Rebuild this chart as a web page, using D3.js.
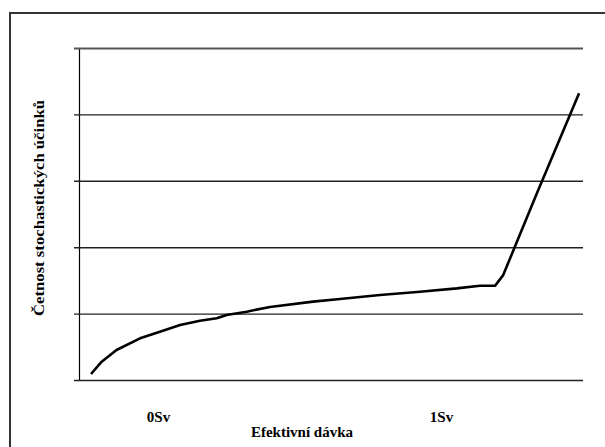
<!DOCTYPE html>
<html>
<head>
<meta charset="utf-8">
<script src="https://cdn.jsdelivr.net/npm/d3@7"></script>
<style>
  html, body { margin: 0; padding: 0; background: #fff; }
  svg { display: block; }
  text { font-family: "Liberation Serif", "Times New Roman", serif; font-weight: bold; fill: #000; }
</style>
</head>
<body>
<svg class="chart"></svg>
<script>
// dávka (Sv) a četnost (v jednotkách mřížky)
const davka = [-0.239, -0.201, -0.148, -0.064, 0.007, 0.079, 0.15, 0.21, 0.245, 0.317,
  0.4, 0.554, 0.65, 0.793, 0.936, 1.067, 1.15, 1.204, 1.233, 1.275, 1.353, 1.504];
const cetnost = [0.09, 0.276, 0.452, 0.628, 0.727, 0.828, 0.893, 0.929, 0.979, 1.029,
  1.10, 1.18, 1.22, 1.28, 1.33, 1.38, 1.42, 1.42, 1.58, 2.01, 2.81, 4.32];

const xTicks = [0, 1];
const xTickLabels = ["0Sv", "1Sv"];
const yTicks = [0, 1, 2, 3, 4, 5];

const xTitle = "Efektivní dávka";
const yTitle = "Četnost stochastických účinků";

const w = 605, h = 447;
const svg = d3.select('svg.chart').attr('width', w).attr('height', h);

// rámeček kolem grafu
svg.append('rect')
  .attr('x', 10).attr('y', 13)
  .attr('width', w).attr('height', h)
  .attr('fill', 'none')
  .attr('stroke', '#333')
  .attr('stroke-width', 2);

// oblast vykreslení
const mLeft = 79, mRight = 583, mTop = 48, mBottom = 380;

const x = d3.scaleLinear().domain([-0.282, 1.518]).range([mLeft, mRight]);
const y = d3.scaleLinear().domain([0, 5]).range([mBottom, mTop]);

// vodorovné čáry mřížky + značky na ose y
const yAxis = d3.axisLeft(y)
  .tickValues(yTicks)
  .tickSize(-(mRight - mLeft))
  .tickSizeOuter(0)
  .tickFormat('');

const gy = svg.append('g')
  .attr('transform', `translate(${mLeft},0)`)
  .call(yAxis);
gy.select('.domain').attr('stroke', '#000').attr('stroke-width', 1.2);
gy.selectAll('.tick line')
  .attr('x1', -5)
  .attr('stroke', d => d == 5 ? '#555' : '#222')
  .attr('stroke-width', d => d == 5 ? 2 : 1.4);

// popisky osy x
const xAxis = d3.axisBottom(x)
  .tickValues(xTicks)
  .tickSize(0)
  .tickFormat((d, i) => xTickLabels[i]);

const gx = svg.append('g')
  .attr('transform', `translate(0,${mBottom})`)
  .call(xAxis);
gx.select('.domain').remove();
gx.selectAll('.tick text')
  .attr('y', 41.5)
  .attr('dy', 0)
  .attr('dx', (d, i) => i == 1 ? 3 : 0)
  .style('font-family', '"Liberation Serif", serif')
  .style('font-size', '15px')
  .style('font-weight', 'bold');

// křivka
const line = d3.line()
  .x((d, i) => x(davka[i]))
  .y(d => y(d));

svg.append('path')
  .datum(cetnost)
  .attr('d', line)
  .attr('fill', 'none')
  .attr('stroke', '#000')
  .attr('stroke-width', 2.6)
  .attr('stroke-linejoin', 'round');

// názvy os
svg.append('text')
  .attr('x', 302).attr('y', 437)
  .attr('text-anchor', 'middle')
  .style('font-size', '15px')
  .text(xTitle);

svg.append('text')
  .attr('transform', 'translate(44,208) rotate(-90)')
  .attr('text-anchor', 'middle')
  .attr('textLength', 216)
  .attr('lengthAdjust', 'spacingAndGlyphs')
  .style('font-size', '15.5px')
  .text(yTitle);
</script>
</body>
</html>
